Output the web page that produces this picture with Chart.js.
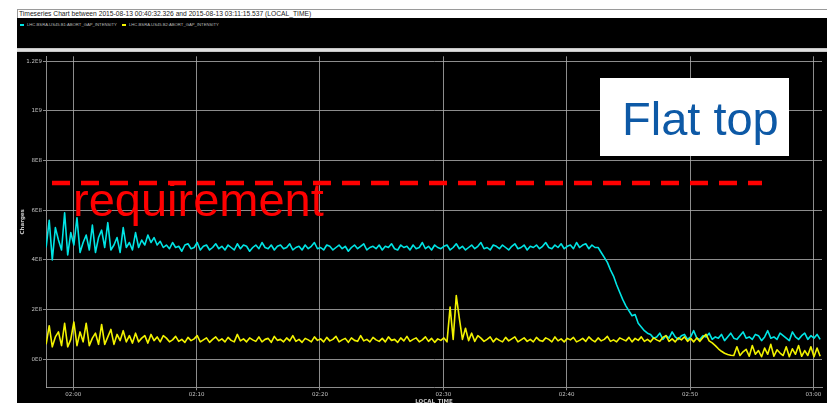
<!DOCTYPE html>
<html>
<head>
<meta charset="utf-8">
<script src="https://cdn.jsdelivr.net/npm/chart.js@4.4.1/dist/chart.umd.min.js"></script>
<style>
  html, body { margin: 0; padding: 0; background: #fff; width: 827px; height: 403px; overflow: hidden; font-family: "Liberation Sans", Arial, sans-serif; }
  #titlebar { position: absolute; left: 17px; top: 9px; width: 810px; height: 9px; border-top: 1px solid #9a9a9a; border-left: 1px solid #9a9a9a; box-sizing: border-box; background: #fff; font-size: 6.7px; line-height: 8px; color: #222; padding-left: 1px; white-space: nowrap; }
  #legend { position: absolute; left: 17px; top: 18px; width: 810px; height: 30px; background: #000; }
  .item { position: absolute; top: 4px; font-size: 4.2px; line-height: 5px; color: #bdbdbd; white-space: nowrap; }
  .mark { display: inline-block; width: 4px; height: 1.5px; vertical-align: middle; margin-right: 3px; }
  #sep { position: absolute; left: 17px; top: 48px; width: 810px; height: 4px; background: linear-gradient(#b8b8b8, #ececec, #b8b8b8); }
  #panel { position: absolute; left: 17px; top: 52px; width: 810px; height: 353px; background: #000; }
</style>
</head>
<body>
<div id="titlebar">Timeseries Chart between 2015-08-13 00:40:32.326 and 2015-08-13 03:11:15.537 (LOCAL_TIME)</div>
<div id="legend"></div>
<div id="sep"></div>
<div id="panel"><canvas id="chart"></canvas></div>
<script>
// time axis: minutes after 02:00, one sample every 15 s starting 01:57:48
const START_MIN = -2.2;
const STEP_MIN = 0.25;

const seriesNames = ["LHC.BSRA.US45.B1:ABORT_GAP_INTENSITY", "LHC.BSRA.US45.B2:ABORT_GAP_INTENSITY"];
const seriesColors = ["#00e4e4", "#f2f200"];

// charges, in units of 1E8
const beam1 = [
  4.5, 5.6, 4.0, 5.3, 4.8, 4.4, 5.9, 4.2, 5.1, 4.6,
  5.7, 4.3, 4.7, 5.0, 4.4, 5.4, 4.3, 4.9, 5.2, 4.5,
  5.5, 4.4, 4.6, 4.9, 4.3, 5.3, 4.5, 4.7, 4.4, 5.1,
  4.5, 4.8, 4.6, 5.0, 4.7, 4.9, 4.6, 4.75, 4.5,
  4.6, 4.45, 4.7, 4.5, 4.55, 4.35, 4.6, 4.65, 4.45, 4.5,
  4.7, 4.4, 4.55, 4.6, 4.4, 4.5, 4.65, 4.45, 4.55, 4.4,
  4.6, 4.5, 4.4, 4.65, 4.45, 4.6, 4.55, 4.35, 4.5, 4.6,
  4.45, 4.7, 4.5, 4.45, 4.6, 4.4, 4.55, 4.6, 4.45, 4.5,
  4.65, 4.4, 4.5, 4.55, 4.4, 4.6, 4.45, 4.55, 4.7, 4.45,
  4.5, 4.4, 4.6, 4.55, 4.4, 4.5, 4.6, 4.45, 4.55, 4.35,
  4.5, 4.6, 4.45, 4.55, 4.65, 4.4, 4.5, 4.55, 4.45, 4.6,
  4.4, 4.55, 4.5, 4.65, 4.45, 4.4, 4.6, 4.5, 4.55, 4.4,
  4.6, 4.45, 4.5, 4.7, 4.45, 4.55, 4.4, 4.6, 4.5, 4.45,
  4.55, 4.6, 4.4, 4.5, 4.65, 4.45, 4.55, 4.4, 4.5, 4.6,
  4.45, 4.55, 4.7, 4.45, 4.5, 4.4, 4.6, 4.55, 4.45, 4.6,
  4.5, 4.4, 4.55, 4.65, 4.45, 4.5, 4.6, 4.4, 4.55, 4.5,
  4.6, 4.45, 4.55, 4.7, 4.5, 4.45, 4.6, 4.5, 4.65, 4.45,
  4.55, 4.6, 4.45, 4.7, 4.5, 4.6, 4.65, 4.45, 4.6, 4.5,
  4.5, 4.3, 4.1, 3.9, 3.6, 3.35, 3.0, 2.7, 2.4, 2.15,
  1.95, 1.75, 1.8, 1.45, 1.3, 1.15, 1.05,
  1.0, 0.85, 0.9, 1.05, 0.8, 0.95, 0.85, 1.1, 0.9, 0.8,
  0.95, 1.0, 0.8, 0.9, 1.15, 0.85, 0.8, 0.95, 0.9, 1.05,
  0.8, 0.9, 0.85, 1.0, 0.75, 0.9, 1.05, 0.85, 0.8, 0.95,
  1.1, 0.85, 0.9, 0.8, 1.0, 0.95, 0.75, 0.9, 1.15, 0.85,
  0.9, 0.8, 1.05, 0.95, 0.85, 0.75, 1.1, 0.9, 0.8, 0.95,
  1.05, 0.8, 0.95, 0.85, 1.0, 0.8
];

const beam2 = [
  0.6, 1.35, 0.5, 0.9, 1.1, 0.55, 1.45, 0.5, 0.8, 1.5,
  0.55, 1.1, 0.7, 1.45, 0.55, 0.85, 1.05, 0.6, 1.4, 0.6,
  0.9, 1.2, 0.6, 1.0, 0.75, 1.15, 0.7, 0.95, 0.65,
  1.05, 0.7, 0.85, 0.95, 0.65, 1.0, 0.75, 0.9, 0.7, 0.95,
  0.85, 0.7, 0.78, 0.92, 0.72, 0.8, 0.68, 0.88, 0.75, 0.82,
  0.95, 0.7, 0.78, 0.86, 0.68, 0.8, 0.9, 0.74, 0.82, 0.7,
  0.88, 0.76, 0.7, 1.0, 0.74, 0.82, 0.7, 0.86, 0.78, 0.72,
  0.9, 0.7, 0.8, 0.84, 0.68, 0.92, 0.76, 0.8, 0.7, 0.86,
  0.74, 0.95, 0.72, 0.8, 0.68, 0.84, 0.78, 0.7, 0.9, 0.76,
  0.82, 0.7, 0.88, 0.74, 0.8, 0.92, 0.7, 0.78, 0.84, 0.68,
  0.86, 0.76, 0.72, 0.95, 0.74, 0.8, 0.7, 0.88, 0.78, 0.72,
  0.84, 0.7, 0.9, 0.76, 0.8, 0.68, 0.86, 0.74, 0.92, 0.72,
  0.8, 0.86, 0.7, 0.78, 0.9, 0.72, 0.84, 0.68, 0.82, 0.76,
  0.86, 0.7, 2.1, 0.8, 2.56, 1.65, 0.8, 1.25, 0.75, 1.05, 0.72, 0.95,
  0.85, 0.72, 0.8, 0.9, 0.7, 0.84, 0.76, 0.7, 0.88, 0.74,
  0.82, 0.9, 0.7, 0.78, 0.86, 0.72, 0.8, 0.7, 0.88, 0.76,
  0.72, 0.86, 0.8, 0.7, 0.9, 0.74, 0.82, 0.7, 0.84, 0.78,
  0.88, 0.7, 0.76, 0.84, 0.72, 0.9, 0.78, 0.7, 0.86, 0.74,
  0.8, 0.92, 0.72, 0.78, 0.7, 0.86, 0.8, 0.74, 0.88, 0.7,
  0.84, 0.76, 0.9, 0.72, 0.8, 0.7, 0.86, 0.78, 0.72, 0.88,
  0.95, 0.72, 0.82, 0.7, 0.86, 0.78, 0.9, 0.72, 0.84, 0.7,
  0.86, 0.72, 0.88, 1.0,
  0.74, 0.66, 0.55, 0.42, 0.32, 0.24, 0.19, 0.16, 0.15,
  0.5, 0.15, 0.3, 0.4, 0.12, 0.55, 0.2, 0.35, 0.1, 0.45,
  0.2, 0.6, 0.12, 0.38, 0.25, 0.15, 0.5, 0.1, 0.42, 0.2,
  0.55, 0.12, 0.35, 0.15, 0.5, 0.1, 0.45, 0.12
];

const xTickValues = [0, 10, 20, 30, 40, 50, 60];
const xTickLabels = ["02:00", "02:10", "02:20", "02:30", "02:40", "02:50", "03:00"];
const yTickValues = [0, 2, 4, 6, 8, 10, 12];
const yTickLabels = ["0E0", "2E8", "4E8", "6E8", "8E8", "1E9", "1.2E9"];

const requirementLevel = 7.1;

// html legend, same as the java chart on top of the plot
const legendBox = document.getElementById("legend");
seriesNames.forEach((name, i) => {
  const el = document.createElement("div");
  el.className = "item";
  el.style.left = (3 + i * 102) + "px";
  el.innerHTML = '<span class="mark" style="background:' + seriesColors[i] + '"></span>' + name;
  legendBox.appendChild(el);
});

const toPoints = (vals) => vals.map((v, i) => ({ x: START_MIN + i * STEP_MIN, y: v }));

const GRID = "rgba(175,175,175,0.8)";
const TICK_COLOR = "#c4c4c4";
const smallFont = { family: "'DejaVu Sans', sans-serif", size: 5.5 };

const overlay = {
  id: "overlay",
  afterDatasetsDraw(chart) {
    const { ctx, chartArea, scales } = chart;
    const yReq = scales.y.getPixelForValue(requirementLevel);
    ctx.save();
    // requirement line
    ctx.strokeStyle = "#ff0000";
    ctx.lineWidth = 4.5;
    ctx.setLineDash([18, 11]);
    ctx.beginPath();
    ctx.moveTo(chartArea.left + 6, yReq);
    ctx.lineTo(chartArea.left + 716, yReq);
    ctx.stroke();
    ctx.setLineDash([]);
    ctx.fillStyle = "#ff0000";
    ctx.font = '47px "Liberation Sans", Arial, sans-serif';
    ctx.textBaseline = "alphabetic";
    ctx.fillText("requirement", chartArea.left + 27, yReq + 33);
    // flat top label box
    ctx.fillStyle = "#ffffff";
    ctx.fillRect(583, 26, 189, 78);
    ctx.fillStyle = "#0d59a6";
    ctx.font = '47px "Liberation Sans", Arial, sans-serif';
    ctx.fillText("Flat top", 605, 83);
    ctx.restore();
  }
};

new Chart(document.getElementById("chart"), {
  type: "line",
  data: {
    datasets: [
      {
        label: seriesNames[0],
        data: toPoints(beam1),
        borderColor: seriesColors[0],
        borderWidth: 1.6,
        pointRadius: 0,
        borderJoinStyle: "round",
        order: 1,
      },
      {
        label: seriesNames[1],
        data: toPoints(beam2),
        borderColor: seriesColors[1],
        borderWidth: 1.6,
        pointRadius: 0,
        borderJoinStyle: "round",
        order: 0,
      },
    ],
  },
  options: {
    responsive: true,
    maintainAspectRatio: false,
    animation: false,
    layout: { padding: { top: 4, right: 5, left: 0, bottom: 0 } },
    plugins: { legend: { display: false }, tooltip: { enabled: false } },
    scales: {
      x: {
        type: "linear",
        min: -2.21,
        max: 60.7,
        afterBuildTicks: (s) => { s.ticks = xTickValues.map((v) => ({ value: v })); },
        afterFit: (s) => { s.height = 17.7; },
        ticks: {
          color: TICK_COLOR,
          font: smallFont,
          padding: 1,
          maxRotation: 0,
          autoSkip: false,
          callback: (v) => xTickLabels[xTickValues.indexOf(v)],
        },
        grid: { color: GRID, lineWidth: 1, tickLength: 3 },
        border: { color: GRID },
        title: { display: true, text: "LOCAL_TIME", color: TICK_COLOR, font: { family: "'DejaVu Sans', sans-serif", size: 5.5, weight: "bold" }, padding: 0 },
      },
      y: {
        type: "linear",
        min: -1.13,
        max: 12.2,
        afterBuildTicks: (s) => { s.ticks = yTickValues.map((v) => ({ value: v })); },
        afterFit: (s) => { s.width = 29; },
        ticks: {
          color: TICK_COLOR,
          font: smallFont,
          padding: 1,
          autoSkip: false,
          callback: (v) => yTickLabels[yTickValues.indexOf(v)],
        },
        grid: { color: GRID, lineWidth: 1, tickLength: 3 },
        border: { color: GRID },
        title: { display: true, text: "Charges", color: TICK_COLOR, font: { family: "'DejaVu Sans', sans-serif", size: 5.5, weight: "bold" }, padding: { top: 2, bottom: 0 } },
      },
    },
  },
  plugins: [overlay],
});
</script>
</body>
</html>
